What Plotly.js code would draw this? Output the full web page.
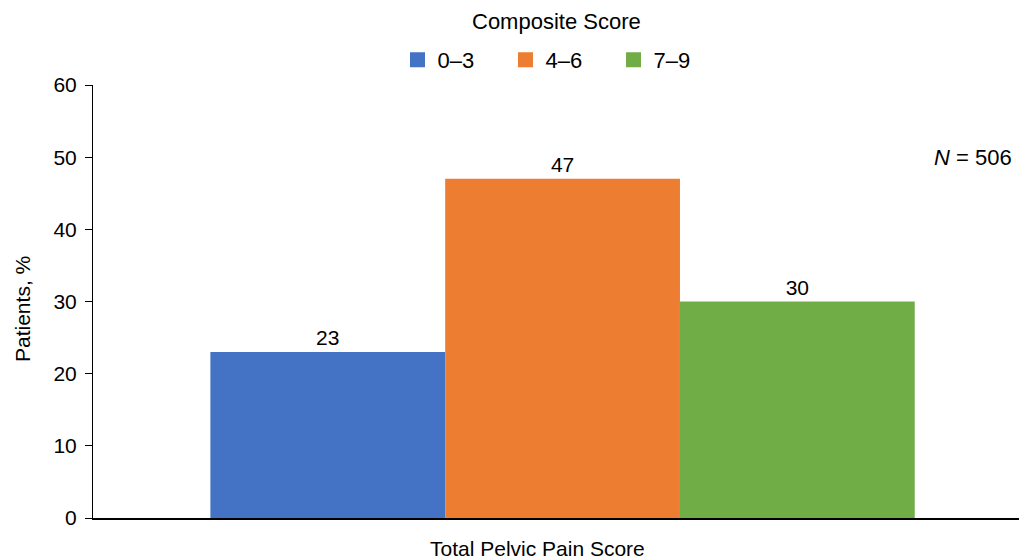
<!DOCTYPE html>
<html>
<head>
<meta charset="utf-8">
<script src="https://cdn.plot.ly/plotly-3.0.1.min.js"></script>
<style>html,body{margin:0;padding:0;background:#fff;}#chart{width:1019px;height:560px;}</style>
</head>
<body>
<div id="chart"></div>
<script>
const category = ["Total Pelvic Pain Score"];
const seriesNames = ["0–3", "4–6", "7–9"];
const seriesValues = [[23], [47], [30]];
const seriesColors = ["#4472C4", "#ED7D31", "#70AD47"];
const yTicks = [0, 10, 20, 30, 40, 50, 60];

const FONT = "Liberation Sans, Arial, sans-serif";
const FS = 21;

const barTraces = seriesNames.map((name, i) => ({
  type: "bar",
  x: category,
  y: seriesValues[i],
  name: name,
  showlegend: false,
  marker: {color: seriesColors[i], line: {width: 0}},
  text: seriesValues[i].map(String),
  textposition: "outside",
  textfont: {family: FONT, size: FS, color: "#000"},
  cliponaxis: false,
  hoverinfo: "none"
}));

// legend-only traces with square swatches
const legendTraces = seriesNames.map((name, i) => ({
  type: "scatter",
  mode: "markers",
  x: [null], y: [null],
  name: name,
  showlegend: true,
  marker: {symbol: "square", size: 15, color: seriesColors[i], line: {width: 0}},
  hoverinfo: "none"
}));

const layout = {
  width: 1019, height: 560,
  margin: {l: 93, r: 0, t: 85, b: 42},
  paper_bgcolor: "#fff", plot_bgcolor: "#fff",
  font: {family: FONT, size: FS, color: "#000"},
  barmode: "group",
  bargap: 0.25,
  bargroupgap: 0,
  showlegend: true,
  legend: {
    orientation: "h",
    xref: "container", yref: "container",
    x: 397.5 / 1019, xanchor: "left",
    y: 1 - 60 / 560, yanchor: "middle",
    font: {family: FONT, size: 22, color: "#000"},
    entrywidth: 63, entrywidthmode: "pixels",
    traceorder: "normal",
    bgcolor: "rgba(0,0,0,0)"
  },
  xaxis: {
    type: "category",
    range: [-0.5, 0.486],
    showticklabels: false,
    ticks: "",
    showline: true, linecolor: "#000", linewidth: 1.5,
    showgrid: false, zeroline: false,
    fixedrange: true
  },
  yaxis: {
    range: [0, 60],
    tickvals: yTicks,
    ticktext: yTicks.map(String),
    ticks: "outside", ticklen: 7, tickcolor: "#000", tickwidth: 1,
    ticklabelstandoff: 4,
    showline: true, linecolor: "#000", linewidth: 1,
    showgrid: false, zeroline: false,
    tickfont: {family: FONT, size: FS, color: "#000"},
    automargin: false,
    fixedrange: true
  },
  annotations: [
    {
      text: "Composite Score",
      xref: "paper", yref: "paper",
      x: (556 - 93) / 926, y: (518 - 22) / 433, xanchor: "center", yanchor: "middle",
      showarrow: false,
      font: {family: FONT, size: 22, color: "#000"}
    },
    {
      text: "Patients, %",
      xref: "paper", yref: "paper",
      x: (22 - 93) / 926, y: (518 - 309) / 433, xanchor: "center", yanchor: "middle",
      textangle: -90,
      showarrow: false,
      font: {family: FONT, size: FS, color: "#000"}
    },
    {
      text: "Total Pelvic Pain Score",
      xref: "paper", yref: "paper",
      x: (537 - 93) / 926, y: (518 - 548) / 433, xanchor: "center", yanchor: "middle",
      showarrow: false,
      font: {family: FONT, size: FS, color: "#000"}
    },
    {
      text: "<i>N</i> = 506",
      xref: "paper", yref: "paper",
      x: (1014 - 93) / 926, y: (518 - 157) / 433, xanchor: "right", yanchor: "middle",
      showarrow: false,
      font: {family: FONT, size: 22, color: "#000"}
    }
  ]
};

Plotly.newPlot("chart", barTraces.concat(legendTraces), layout, {displayModeBar: false, staticPlot: true});
</script>
</body>
</html>
